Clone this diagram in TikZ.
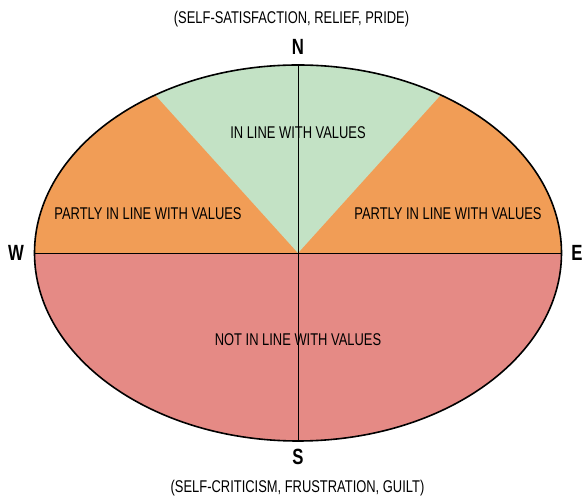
\documentclass[tikz,border=0pt]{standalone}
\usepackage{fontspec}
\setmainfont[FakeStretch=0.76]{Liberation Sans}
\definecolor{inlinegreen}{RGB}{195,226,197}
\definecolor{partorange}{RGB}{241,157,86}
\definecolor{notred}{RGB}{229,138,133}
\tikzset{
  zonelabel/.style={font=\fontsize{17}{19}\selectfont, inner sep=0pt},
  compass/.style={font=\fontsize{22}{24}\selectfont\bfseries, inner sep=0pt},
  feeling/.style={font=\fontsize{17}{19}\selectfont, inner sep=0pt}
}
\begin{document}
\begin{tikzpicture}[x=1pt, y=1pt, line join=round, line cap=round]
    \def\cx{298} \def\cy{245}
    \def\rx{263.5} \def\ry{188}
    \useasboundingbox (0,0) rectangle (582,498);
    \coordinate (O) at (\cx,\cy);
    \coordinate (westpt) at (\cx-\rx,\cy);
    \coordinate (eastpt) at (\cx+\rx,\cy);
    \coordinate (northpt) at (\cx,\cy+\ry);
    \coordinate (southpt) at (\cx,\cy-\ry);
    \coordinate (wedgel) at ({\cx+\rx*cos(122.8)},{\cy+\ry*sin(122.8)});
    % halves and wedge
    \fill[notred] (westpt) arc[start angle=180, end angle=360, x radius=\rx, y radius=\ry] -- cycle;
    \fill[partorange] (eastpt) arc[start angle=0, end angle=180, x radius=\rx, y radius=\ry] -- cycle;
    \fill[inlinegreen] (O) -- (wedgel)
        arc[start angle=122.8, end angle=57.2, x radius=\rx, y radius=\ry] -- cycle;
    % axes and outline
    \draw[line width=0.9pt] (westpt) -- (eastpt);
    \draw[line width=0.9pt] (northpt) -- (southpt);
    \draw[line width=1.6pt] (O) ellipse[x radius=\rx, y radius=\ry];
    % compass letters
    \node[compass] (N) at (298,451) {N};
    \node[compass] (S) at (298,41) {S};
    \node[compass] (W) at (16,245) {W};
    \node[compass] (E) at (577,245) {E};
    % zones
    \node[zonelabel] (inl) at (298,365) {IN LINE WITH VALUES};
    \node[zonelabel] (partl) at (148,284) {PARTLY IN LINE WITH VALUES};
    \node[zonelabel] (partr) at (448,284) {PARTLY IN LINE WITH VALUES};
    \node[zonelabel] (notl) at (298,158) {NOT IN LINE WITH VALUES};
    % feelings
    \node[feeling] (pos) at (291.5,479) {(SELF-SATISFACTION, RELIEF, PRIDE)};
    \node[feeling] (neg) at (297.5,10) {(SELF-CRITICISM, FRUSTRATION, GUILT)};
\end{tikzpicture}
\end{document}
